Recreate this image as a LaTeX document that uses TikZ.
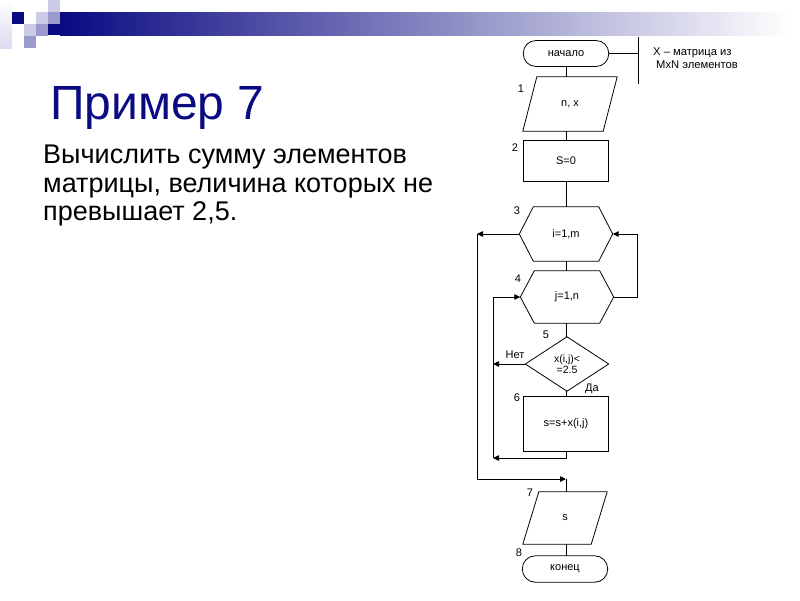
\documentclass[tikz,border=0pt]{standalone}
\usepackage{fontspec}
\setmainfont{Liberation Sans}
\usetikzlibrary{arrows.meta,calc}
\definecolor{navy}{HTML}{0A0A82}
\definecolor{medlav}{HTML}{9A9ACC}
\definecolor{litlav}{HTML}{CCCCE8}
\tikzset{
  fc/.style={line width=0.8pt, draw=black},
  ghost/.style={rectangle, draw=none, inner sep=0pt, font=\fontsize{11}{12.5}\selectfont, align=center},
  num/.style={font=\fontsize{11}{12}\selectfont, inner sep=0pt},
  arr/.style={line width=0.8pt, -{Triangle[length=6pt,width=5.5pt]}},
  ln/.style={line width=0.8pt},
}
\begin{document}
\begin{tikzpicture}[x=1pt,y=-1pt]
\useasboundingbox (0,0) rectangle (800,600);
% decoration
\shade[top color=white, bottom color=litlav!70] (0,0) rectangle (12,48);
\shade[left color=navy, right color=white] (60,12) rectangle (790,35);
\fill[navy] (48,24) rectangle (60,35);
\fill[litlav] (48,0) rectangle (60,12);
\fill[navy] (12,12) rectangle (24,24);
\fill[litlav] (36,12) rectangle (48,24);
\fill[medlav] (48,12) rectangle (60,24);
\fill[litlav] (24,24) rectangle (36,36);
\fill[medlav] (36,24) rectangle (48,36);
\fill[medlav] (24,36) rectangle (36,48);
% title and task
\node[anchor=base west, inner sep=0pt, text=navy, font=\fontsize{48}{50}\selectfont] (title) at (50,119) {Пример 7};
\node[anchor=base west, inner sep=0pt, font=\fontsize{27}{28}\selectfont] (t1) at (43,163.5) {Вычислить сумму элементов};
\node[anchor=base west, inner sep=0pt, font=\fontsize{27}{28}\selectfont] (t2) at (43,192) {матрицы, величина которых не};
\node[anchor=base west, inner sep=0pt, font=\fontsize{27}{28}\selectfont] (t3) at (43,220.5) {превышает 2,5.};
% flowchart nodes
\node[ghost, minimum width=85, minimum height=25.5] (start) at (566,53.5) {начало};
\draw[fc, rounded corners=12.5] (start.north west) rectangle (start.south east);
\node[ghost, minimum width=94, minimum height=54] (p1) at (570,104) {n, x};
\draw[fc] ($(p1.north west)+(14,0)$) -- (p1.north east) -- ($(p1.south east)+(-14,0)$) -- (p1.south west) -- cycle;
\node[ghost, minimum width=85, minimum height=40] (r2) at (566,161) {S=0};
\draw[fc] (r2.north west) rectangle (r2.south east);
\node[ghost, minimum width=93, minimum height=54] (h3) at (566,234) {i=1,m};
\draw[fc] (h3.west) -- ($(h3.north west)+(14,0)$) -- ($(h3.north east)+(-14,0)$) -- (h3.east) -- ($(h3.south east)+(-14,0)$) -- ($(h3.south west)+(14,0)$) -- cycle;
\node[ghost, minimum width=93, minimum height=52] (h4) at (567,297) {j=1,n};
\draw[fc] (h4.west) -- ($(h4.north west)+(14,0)$) -- ($(h4.north east)+(-14,0)$) -- (h4.east) -- ($(h4.south east)+(-14,0)$) -- ($(h4.south west)+(14,0)$) -- cycle;
\node[ghost, minimum width=83, minimum height=54, font=\fontsize{10.5}{11.5}\selectfont] (d5) at (567,364) {x(i,j)<\\=2.5};
\draw[fc] (d5.north) -- (d5.east) -- (d5.south) -- (d5.west) -- cycle;
\node[ghost, minimum width=85, minimum height=54] (r6) at (566,424) {s=s+x(i,j)};
\draw[fc] (r6.north west) rectangle (r6.south east);
\node[ghost, minimum width=84, minimum height=52] (p7) at (565,518) {s};
\draw[fc] ($(p7.north west)+(16,0)$) -- (p7.north east) -- ($(p7.south east)+(-16,0)$) -- (p7.south west) -- cycle;
\node[ghost, minimum width=85, minimum height=26] (end) at (565,569) {конец};
\draw[fc, rounded corners=13] (end.north west) rectangle (end.south east);
% numbers
\node[num] (n1) at (521,89) {1};
\node[num] (n2) at (515,148) {2};
\node[num] (n3) at (517,211) {3};
\node[num] (n4) at (518,279) {4};
\node[num] (n5) at (546,335) {5};
\node[num] (n6) at (517,398) {6};
\node[num] (n7) at (530,493) {7};
\node[num] (n8) at (519,553) {8};
\node[num] (no) at (515,355) {Нет};
\node[num] (yes) at (592,389) {Да};
% comment
\coordinate (ctop) at (638,37);
\coordinate (cbot) at (638,84);
\node[anchor=west, inner sep=0pt, align=left, font=\fontsize{11.2}{12.5}\selectfont] (cmt) at (653,58) {X – матрица из\\\hspace*{3pt}MxN элементов};
\draw[ln] (start.east) -- (start.east -| ctop);
\draw[ln] (ctop) -- (cbot);
% straight connectors
\draw[ln] (start.south) -- (start.south |- p1.north);
\draw[ln] (start.south |- p1.south) -- (start.south |- r2.north);
\draw[ln] (r2.south) -- (r2.south |- h3.north);
\draw[ln] (h3.south) -- (h3.south |- h4.north);
\draw[ln] (start.south |- h4.south) -- (start.south |- d5.north);
\draw[ln] (start.south |- d5.south) -- (start.south |- r6.north);
\draw[ln] (start.south |- p7.south) -- (start.south |- end.north);
% loops
\coordinate (oL) at (477,234);
\coordinate (oB) at (566,479);
\coordinate (iR) at (637,297);
\coordinate (iL) at (493,458);
\coordinate (iT) at (493,297);
\coordinate (nn) at (493,364);
\draw[arr] (h3.west) -- (oL);
\draw[arr] (oL) |- (oB);
\draw[ln] (oB) -- (oB |- p7.north);
\draw[ln] (h4.east) -- (iR) -- (iR |- h3.east);
\draw[arr] (iR |- h3.east) -- (h3.east);
\draw[arr] (d5.west) -- (nn);
\draw[arr] (r6.south) |- (iL);
\draw[arr] (iL) -- (iT) -- (h4.west);
\end{tikzpicture}
\end{document}
